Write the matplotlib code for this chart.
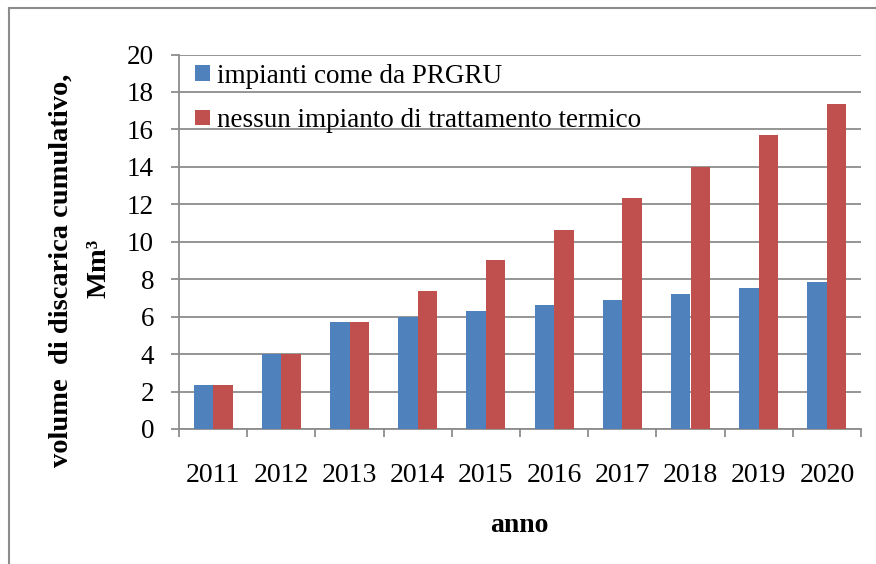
import numpy as np
import matplotlib
matplotlib.use("Agg")
import matplotlib.pyplot as plt
from matplotlib.lines import Line2D

years = ["2011", "2012", "2013", "2014", "2015", "2016", "2017", "2018", "2019", "2020"]
impianti_prgru = [2.35, 4.0, 5.7, 6.0, 6.3, 6.6, 6.9, 7.2, 7.55, 7.85]
nessun_impianto = [2.35, 4.0, 5.7, 7.35, 9.0, 10.65, 12.35, 14.0, 15.7, 17.35]
series_labels = ["impianti come da PRGRU", "nessun impianto di trattamento termico"]
y_ticks = [0, 2, 4, 6, 8, 10, 12, 14, 16, 18, 20]

BLUE = "#4F81BD"
RED = "#C0504D"
GRID = "#8C8C8C"
SERIF = ["Liberation Serif", "DejaVu Serif"]

W, H = 876, 564
fig = plt.figure(figsize=(W / 100, H / 100), dpi=100)
ax = fig.add_axes([179 / W, 1 - 429 / H, (861 - 179) / W, (429 - 54.5) / H])

x = np.arange(len(years))
bw = 1 / 3.5
ax.bar(x - bw / 2, impianti_prgru, width=bw, color=BLUE, label=series_labels[0], zorder=3)
ax.bar(x + bw / 2, nessun_impianto, width=bw, color=RED, label=series_labels[1], zorder=3)

ax.set_xlim(-0.5, len(years) - 0.5)
ax.set_ylim(0, 20)
ax.set_yticks(y_ticks)
ax.set_yticklabels([str(v) for v in y_ticks], family=SERIF, fontsize=19.5)
ax.set_xticks(x)
ax.set_xticklabels(years, family=SERIF, fontsize=20)
ax.set_xticks(np.arange(len(years) + 1) - 0.5, minor=True)
ax.tick_params(axis="x", which="major", length=0, pad=24.5)
ax.tick_params(axis="x", which="minor", length=6, width=1.3, color=GRID, direction="out")
ax.tick_params(axis="y", length=6, width=1.3, color=GRID, direction="out", pad=12)

ax.grid(axis="y", color=GRID, linewidth=1.3, zorder=0)
ax.set_axisbelow(True)
for side in ["top", "right"]:
    ax.spines[side].set_visible(False)
for side in ["left", "bottom"]:
    ax.spines[side].set_color(GRID)
    ax.spines[side].set_linewidth(1.3)

# axis titles, placed in pixel coordinates of the chart area
def px(xp, yp):
    return xp / W, 1 - yp / H

fig.text(*px(519, 532), "anno", family=SERIF, fontsize=20, fontweight="bold",
         ha="center", va="baseline")
fig.text(*px(68, 270), "volume  di discarica cumulativo,", family=SERIF, fontsize=20.5,
         fontweight="bold", rotation=90, rotation_mode="anchor", ha="center", va="baseline")
fig.text(*px(105, 268), "Mm³", family=SERIF, fontsize=20.5,
         fontweight="bold", rotation=90, rotation_mode="anchor", ha="center", va="baseline")

leg = ax.legend(loc="upper left", bbox_to_anchor=(0.004, 1.012), frameon=False,
                prop={"family": SERIF, "size": 19.5}, handlelength=0.55, handleheight=0.5,
                handletextpad=0.25, labelspacing=0.72, borderaxespad=0.1)

# outer chart border (left and top edges)
fig.add_artist(Line2D([9 / W, 9 / W], [0, 1 - 8 / H], transform=fig.transFigure,
                      color=GRID, linewidth=1.5))
fig.add_artist(Line2D([9 / W, 1], [1 - 8 / H, 1 - 8 / H], transform=fig.transFigure,
                      color=GRID, linewidth=1.5))

fig.savefig("out.png", dpi=100)
